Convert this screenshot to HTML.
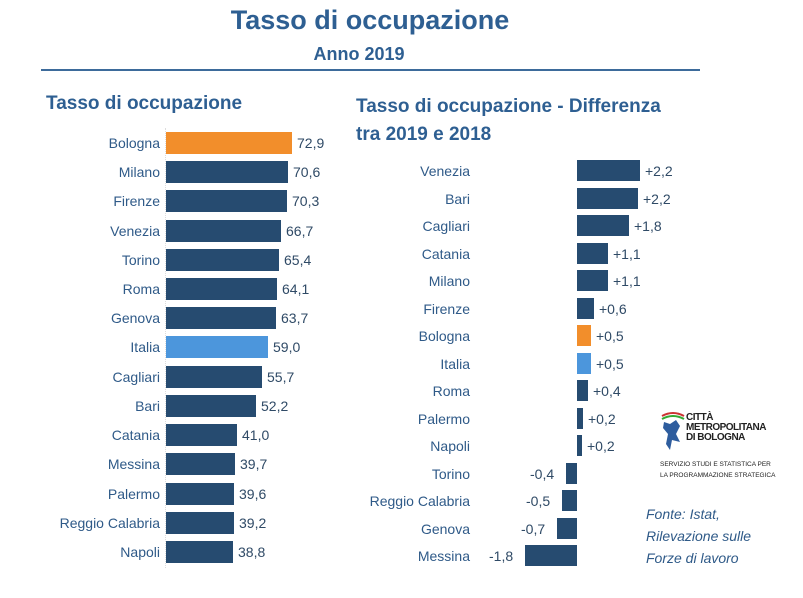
<!DOCTYPE html>
<html><head><meta charset="utf-8"><style>
body{margin:0;width:803px;height:598px;background:#fff;position:relative;overflow:hidden;font-family:"Liberation Sans",sans-serif;}
div{position:absolute;}
.t{color:#2e5f92;font-weight:bold;}
.l{width:150px;text-align:right;font-size:14px;color:#2f5a88;line-height:22px;}
.v{font-size:14px;color:#2f4a66;line-height:22px;}
.b{height:22px;background:#264b70;}
.r{height:21px;background:#264b70;}
.o{background:#f28e2b}.c{background:#4c96dc}
</style></head><body>
<div class="t" style="left:0;width:740px;top:5px;text-align:center;font-size:27px;">Tasso di occupazione</div>
<div class="t" style="left:0;width:718px;top:44px;text-align:center;font-size:18px;">Anno 2019</div>
<div style="left:41px;top:69px;width:659px;height:2px;background:#3d6b9b"></div>
<div class="t" style="left:46px;top:93px;font-size:19px;">Tasso di occupazione</div>
<div class="t" style="left:356px;top:93px;font-size:19px;line-height:28px;">Tasso di occupazione - Differenza<br>tra 2019 e 2018</div>

<div style="left:165px;top:128px;width:1px;height:440px;border-left:1px dotted #ddd"></div>

<div class="l" style="left:10px;top:132px">Bologna</div><div class="b o" style="left:166px;top:132px;width:126px"></div><div class="v" style="left:297px;top:132px">72,9</div>
<div class="l" style="left:10px;top:161px">Milano</div><div class="b" style="left:166px;top:161px;width:122px"></div><div class="v" style="left:293px;top:161px">70,6</div>
<div class="l" style="left:10px;top:190px">Firenze</div><div class="b" style="left:166px;top:190px;width:121px"></div><div class="v" style="left:292px;top:190px">70,3</div>
<div class="l" style="left:10px;top:220px">Venezia</div><div class="b" style="left:166px;top:220px;width:115px"></div><div class="v" style="left:286px;top:220px">66,7</div>
<div class="l" style="left:10px;top:249px">Torino</div><div class="b" style="left:166px;top:249px;width:113px"></div><div class="v" style="left:284px;top:249px">65,4</div>
<div class="l" style="left:10px;top:278px">Roma</div><div class="b" style="left:166px;top:278px;width:111px"></div><div class="v" style="left:282px;top:278px">64,1</div>
<div class="l" style="left:10px;top:307px">Genova</div><div class="b" style="left:166px;top:307px;width:110px"></div><div class="v" style="left:281px;top:307px">63,7</div>
<div class="l" style="left:10px;top:336px">Italia</div><div class="b c" style="left:166px;top:336px;width:102px"></div><div class="v" style="left:273px;top:336px">59,0</div>
<div class="l" style="left:10px;top:366px">Cagliari</div><div class="b" style="left:166px;top:366px;width:96px"></div><div class="v" style="left:267px;top:366px">55,7</div>
<div class="l" style="left:10px;top:395px">Bari</div><div class="b" style="left:166px;top:395px;width:90px"></div><div class="v" style="left:261px;top:395px">52,2</div>
<div class="l" style="left:10px;top:424px">Catania</div><div class="b" style="left:166px;top:424px;width:71px"></div><div class="v" style="left:242px;top:424px">41,0</div>
<div class="l" style="left:10px;top:453px">Messina</div><div class="b" style="left:166px;top:453px;width:69px"></div><div class="v" style="left:240px;top:453px">39,7</div>
<div class="l" style="left:10px;top:483px">Palermo</div><div class="b" style="left:166px;top:483px;width:68px"></div><div class="v" style="left:239px;top:483px">39,6</div>
<div class="l" style="left:10px;top:512px">Reggio Calabria</div><div class="b" style="left:166px;top:512px;width:68px"></div><div class="v" style="left:239px;top:512px">39,2</div>
<div class="l" style="left:10px;top:541px">Napoli</div><div class="b" style="left:166px;top:541px;width:67px"></div><div class="v" style="left:238px;top:541px">38,8</div>

<div class="l" style="left:320px;top:160px">Venezia</div><div class="r" style="left:577px;top:160px;width:63px"></div><div class="v" style="left:645px;top:160px">+2,2</div>
<div class="l" style="left:320px;top:188px">Bari</div><div class="r" style="left:577px;top:188px;width:61px"></div><div class="v" style="left:643px;top:188px">+2,2</div>
<div class="l" style="left:320px;top:215px">Cagliari</div><div class="r" style="left:577px;top:215px;width:52px"></div><div class="v" style="left:634px;top:215px">+1,8</div>
<div class="l" style="left:320px;top:243px">Catania</div><div class="r" style="left:577px;top:243px;width:31px"></div><div class="v" style="left:613px;top:243px">+1,1</div>
<div class="l" style="left:320px;top:270px">Milano</div><div class="r" style="left:577px;top:270px;width:31px"></div><div class="v" style="left:613px;top:270px">+1,1</div>
<div class="l" style="left:320px;top:298px">Firenze</div><div class="r" style="left:577px;top:298px;width:17px"></div><div class="v" style="left:599px;top:298px">+0,6</div>
<div class="l" style="left:320px;top:325px">Bologna</div><div class="r o" style="left:577px;top:325px;width:14px"></div><div class="v" style="left:596px;top:325px">+0,5</div>
<div class="l" style="left:320px;top:353px">Italia</div><div class="r c" style="left:577px;top:353px;width:14px"></div><div class="v" style="left:596px;top:353px">+0,5</div>
<div class="l" style="left:320px;top:380px">Roma</div><div class="r" style="left:577px;top:380px;width:11px"></div><div class="v" style="left:593px;top:380px">+0,4</div>
<div class="l" style="left:320px;top:408px">Palermo</div><div class="r" style="left:577px;top:408px;width:6px"></div><div class="v" style="left:588px;top:408px">+0,2</div>
<div class="l" style="left:320px;top:435px">Napoli</div><div class="r" style="left:577px;top:435px;width:5px"></div><div class="v" style="left:587px;top:435px">+0,2</div>
<div class="l" style="left:320px;top:463px">Torino</div><div class="r" style="left:566px;top:463px;width:11px"></div><div class="v" style="left:530px;top:463px">-0,4</div>
<div class="l" style="left:320px;top:490px">Reggio Calabria</div><div class="r" style="left:562px;top:490px;width:15px"></div><div class="v" style="left:526px;top:490px">-0,5</div>
<div class="l" style="left:320px;top:518px">Genova</div><div class="r" style="left:557px;top:518px;width:20px"></div><div class="v" style="left:521px;top:518px">-0,7</div>
<div class="l" style="left:320px;top:545px">Messina</div><div class="r" style="left:525px;top:545px;width:52px"></div><div class="v" style="left:489px;top:545px">-1,8</div>

<svg style="position:absolute;left:658px;top:410px" width="30" height="45" viewBox="0 0 30 45">
<path d="M4 6 Q15 0 26 6" stroke="#c33" stroke-width="2" fill="none"/>
<path d="M4 9 Q15 3 26 9" stroke="#3a3" stroke-width="2" fill="none"/>
<path d="M6 12 L12 14 L18 10 L22 16 L18 24 L22 32 L14 30 L12 40 L8 34 L10 24 L5 18 Z" fill="#2e5d9e"/>
</svg>
<div style="left:686px;top:413px;font-size:10px;line-height:10px;color:#222;font-weight:bold;letter-spacing:-0.5px">CITTÀ<br>METROPOLITANA<br>DI BOLOGNA</div>
<div style="left:660px;top:459px;font-size:6.5px;line-height:11px;color:#222">SERVIZIO STUDI E STATISTICA PER<br>LA PROGRAMMAZIONE STRATEGICA</div>

<div style="left:646px;top:503px;font-size:14px;line-height:22px;font-style:italic;color:#2f5a88">Fonte: Istat,<br>Rilevazione sulle<br>Forze di lavoro</div>
</body></html>
